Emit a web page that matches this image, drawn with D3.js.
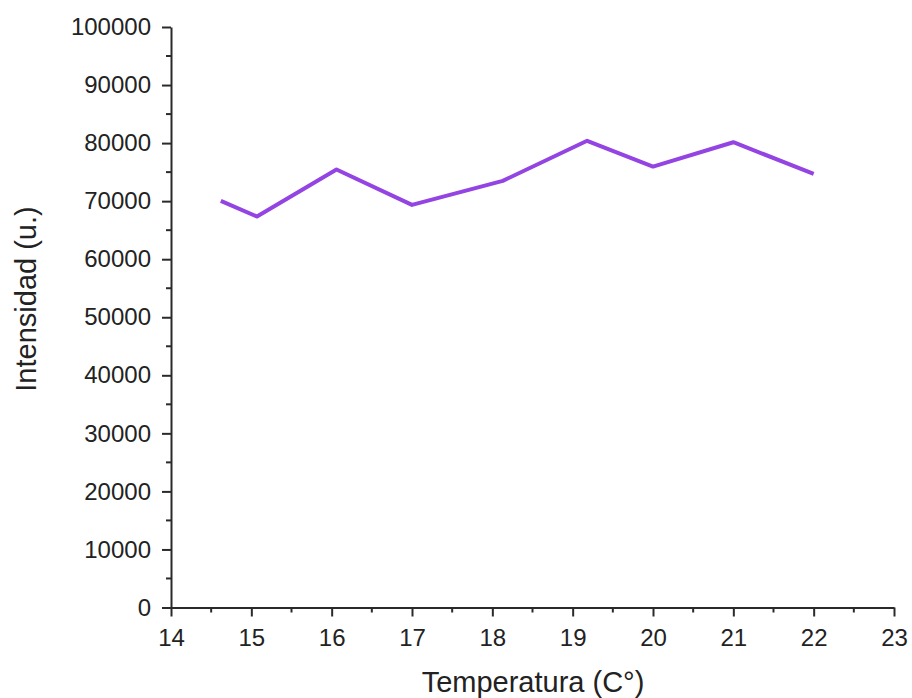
<!DOCTYPE html>
<html>
<head>
<meta charset="utf-8">
<script src="https://cdn.jsdelivr.net/npm/d3@7"></script>
<style>
  body { margin: 0; background: #fff; }
  svg text { font-family: "Liberation Sans", Arial, sans-serif; fill: #222; }
</style>
</head>
<body>
<div class="chart"></div>
<script>
// data
var temperatura = [14.62, 15.07, 16.06, 17.0, 18.13, 19.18, 20.0, 21.0, 22.0];
var intensidad = [70050, 67350, 75450, 69350, 73500, 80400, 75950, 80150, 74700];
var xTicks = [14, 15, 16, 17, 18, 19, 20, 21, 22, 23];
var yTicks = [0, 10000, 20000, 30000, 40000, 50000, 60000, 70000, 80000, 90000, 100000];

var options = {
    width: 912,
    height: 698,
    left: 171,
    right: 894,
    top: 27,
    bottom: 607.5
};

var svg = d3.select(".chart").append("svg")
    .attr("width", options.width)
    .attr("height", options.height);

var xScale = d3.scaleLinear().domain([14, 23]).range([options.left, options.right]);
var yScale = d3.scaleLinear().domain([0, 100000]).range([options.bottom, options.top]);

var points = temperatura.map(function (t, i) { return [t, intensidad[i]]; });

// minor ticks
var xMinor = d3.range(14.5, 23, 1);
var yMinor = d3.range(5000, 100000, 10000);

var xAxis = d3.axisBottom(xScale).tickValues(xTicks).tickFormat(d3.format("d"))
    .tickSize(9).tickSizeOuter(0).tickPadding(12);
var yAxis = d3.axisLeft(yScale).tickValues(yTicks).tickFormat(d3.format("d"))
    .tickSize(9).tickSizeOuter(0).tickPadding(11);

var gx = svg.append("g")
    .attr("class", "x axis")
    .attr("transform", "translate(0," + options.bottom + ")")
    .call(xAxis);

gx.selectAll(".minor").data(xMinor).enter().append("line")
    .attr("class", "minor")
    .attr("x1", function (d) { return xScale(d); })
    .attr("x2", function (d) { return xScale(d); })
    .attr("y1", 0).attr("y2", 5);

var gy = svg.append("g")
    .attr("class", "y axis")
    .attr("transform", "translate(" + options.left + ",0)")
    .call(yAxis);

gy.selectAll(".minor").data(yMinor).enter().append("line")
    .attr("class", "minor")
    .attr("y1", function (d) { return yScale(d); })
    .attr("y2", function (d) { return yScale(d); })
    .attr("x1", 0).attr("x2", -5);

svg.selectAll(".axis path, .axis line")
    .attr("stroke", "#2a2a2a")
    .attr("stroke-width", 2);
svg.selectAll(".axis text")
    .attr("font-size", "24px")
    .attr("fill", "#222");

// the line
var line = d3.line()
    .x(function (d) { return xScale(d[0]); })
    .y(function (d) { return yScale(d[1]); });

svg.append("path")
    .datum(points)
    .attr("d", line)
    .attr("fill", "none")
    .attr("stroke", "#9444e2")
    .attr("stroke-width", 4)
    .attr("stroke-linejoin", "round");

// axis titles
svg.append("text")
    .attr("x", 533)
    .attr("y", 692)
    .attr("text-anchor", "middle")
    .attr("font-size", "29px")
    .text("Temperatura (C°)");

svg.append("text")
    .attr("transform", "translate(36,299) rotate(-90)")
    .attr("text-anchor", "middle")
    .attr("font-size", "29px")
    .text("Intensidad (u.)");
</script>
</body>
</html>
